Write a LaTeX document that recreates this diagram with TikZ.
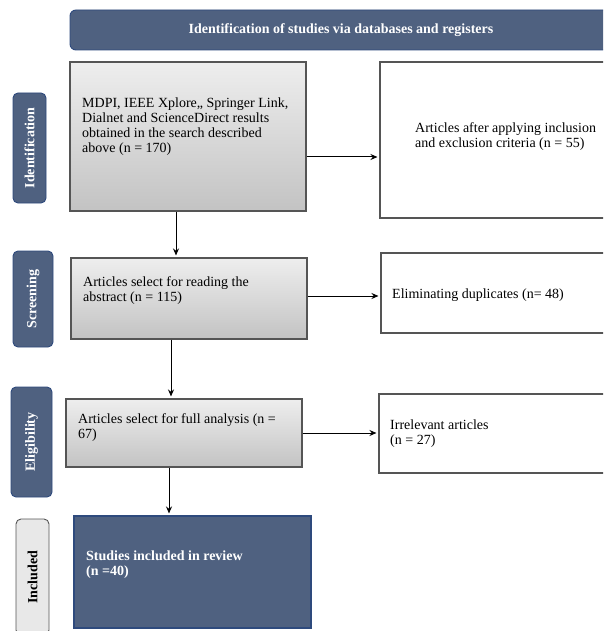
\documentclass[tikz,border=0pt]{standalone}
\usepackage{fontspec}
\setmainfont{Liberation Serif}
\usepackage{tikz}
\usetikzlibrary{arrows.meta,positioning}
\definecolor{slate}{RGB}{79,97,128}
\definecolor{slateline}{RGB}{46,74,125}
\definecolor{boxline}{RGB}{85,85,85}
\definecolor{grtop}{RGB}{238,238,238}
\definecolor{grbot}{RGB}{195,195,195}
\definecolor{inclfill}{RGB}{232,232,232}

\begin{document}
\fontsize{14}{15}\selectfont
\begin{tikzpicture}[x=1pt,y=-1pt,>={Stealth[length=7pt,width=6pt]},
  phase/.style={draw=slateline,fill=slate,rounded corners=5pt,line width=.9pt,text=white,font=\bfseries,rotate=90,inner sep=0pt},
  grbox/.style={draw=boxline,line width=1.1pt,top color=grtop,bottom color=grbot,minimum width=236,inner sep=0pt},
  wbox/.style={draw=boxline,line width=1.1pt,fill=white,minimum width=300,inner sep=0pt},
  txt/.style={anchor=north west,align=left,inner sep=0pt},
  arr/.style={->,line width=1pt,shorten >=2pt}]
\useasboundingbox (0,0) rectangle (603,631);
\clip (0,0) rectangle (603,631);
% title bar
\node[draw=slateline,fill=slate,rounded corners=6pt,line width=.9pt,minimum width=562,minimum height=40] (head) at (351,30){};
\node[text=white,font=\bfseries,inner sep=0pt] (headtxt) at (341,30){Identification of studies via databases and registers};
% stages on the left
\node[phase,minimum width=110,minimum height=33] (lident) at (29.5,148){Identification};
\node[phase,minimum width=96,minimum height=40] (lscreen) at (33,299){Screening};
\node[phase,minimum width=110,minimum height=41] (lelig) at (31.5,442){Eligibility};
\node[phase,minimum width=116,minimum height=33,fill=inclfill,draw=boxline,text=black] (lincl) at (32.5,577){Included};
% main column
\node[grbox,minimum height=149] (search) at (188,136.5){};
\node[txt] (searchtxt) at (82,97.5){MDPI, IEEE Xplore,, Springer Link,\\Dialnet and ScienceDirect results\\obtained in the search described\\above (n = 170)};
\node[grbox,minimum height=81] (abstr) at (189,298.5){};
\node[txt] (abstrtxt) at (83,276){Articles select for reading the\\abstract (n = 115)};
\node[grbox,minimum height=68] (full) at (184,433){};
\node[txt] (fulltxt) at (78,413){Articles select for full analysis (n =\\67)};
\node[draw=slateline,fill=slate,line width=1.1pt,minimum width=237,minimum height=112] (incl) at (192.5,572){};
\node[txt,text=white,font=\bfseries] (incltxt) at (86,551){Studies included in review\\(n =40)};
% side column
\node[wbox,minimum height=156] (crit) at (530,140){};
\node[txt] (crittxt) at (415,122){Articles after applying inclusion\\and exclusion criteria (n = 55)};
\node[wbox,minimum height=80] (dupl) at (531,293){};
\node[txt] (dupltxt) at (392,289){Eliminating duplicates (n= 48)};
\node[wbox,minimum height=79] (irrel) at (529,433.5){};
\node[txt] (irreltxt) at (390,420){Irrelevant articles\\(n = 27)};
% arrows
\draw[arr] ([yshift=-20.5pt]search.east) -- ([yshift=-20.5pt]search.east -| crit.west);
\draw[arr] ([yshift=2.5pt]abstr.east) -- ([yshift=2.5pt]abstr.east -| dupl.west);
\draw[arr] (full.east) -- (full.east -| irrel.west);
\draw[arr] ([xshift=-12pt]search.south) -- ([xshift=-12pt]search.south |- abstr.north);
\draw[arr] ([xshift=-18pt]abstr.south) -- ([xshift=-18pt]abstr.south |- full.north);
\draw[arr] ([xshift=-15pt]full.south) -- ([xshift=-15pt]full.south |- incl.north);
\end{tikzpicture}
\end{document}
